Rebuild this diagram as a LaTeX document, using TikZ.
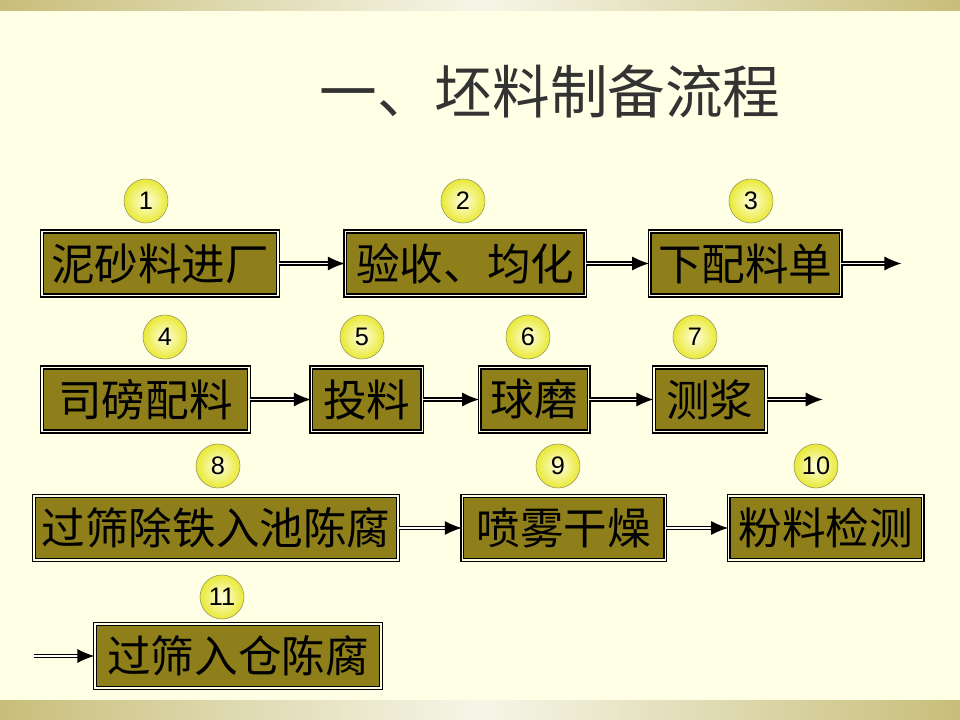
\documentclass[tikz,border=0pt]{standalone}
\usepackage{fontspec}
\setmainfont{Liberation Sans}
\newfontfamily\cjk{Noto Sans CJK SC}
\usepackage{tikz}
\usetikzlibrary{arrows.meta, positioning, shadings}

\definecolor{pagebg}{RGB}{255,255,229}
\definecolor{bandside}{RGB}{200,190,122}
\definecolor{bandmid}{RGB}{246,246,232}
\definecolor{stepfill}{RGB}{143,127,26}
\definecolor{titlegray}{RGB}{51,51,51}

\tikzset{
  stepbox/.style={rectangle, draw=black, line width=0.9pt, double=pagebg, double distance=1.1pt,
    fill=stepfill, minimum height=1.6cm, inner sep=0pt, font=\cjk\fontsize{31}{31}\selectfont},
  badge/.style={circle, draw=black!45!yellow!60!gray, line width=0.4pt, minimum size=1.1cm, inner sep=0pt,
    inner color=yellow!12, outer color=yellow!75!olive!70, font=\fontsize{18}{18}\selectfont},
  flow/.style={double, line width=0.8pt, double distance=1.4pt, -{Latex[length=12pt,width=10pt]}},
}

\begin{document}
\begin{tikzpicture}[x=0.025cm, y=-0.025cm]
  \useasboundingbox (0,0) rectangle (960,720);
  \fill[pagebg] (0,0) rectangle (960,720);
  \shade[left color=bandside, right color=bandside, middle color=bandmid] (0,0) rectangle (960,11);
  \shade[left color=bandside, right color=bandside, middle color=bandmid] (0,700) rectangle (960,720);

  \node[text=titlegray, font=\cjk\fontsize{41}{41}\selectfont] (title) at (550,92) {一、坯料制备流程};

  \node[stepbox, minimum width=5.9cm] (s1) at (160,263.5) {泥砂料进厂};
  \node[stepbox, minimum width=6.0cm, right=1.65cm of s1] (s2) {验收、均化};
  \node[stepbox, minimum width=4.775cm, right=1.575cm of s2] (s3) {下配料单};
  \coordinate[right=1.5cm of s3] (o3);

  \node[stepbox, minimum width=5.175cm] (s4) at (145.5,399.5) {司磅配料};
  \node[stepbox, minimum width=2.775cm, right=1.525cm of s4] (s5) {投料};
  \node[stepbox, minimum width=2.725cm, right=1.4cm of s5] (s6) {球磨};
  \node[stepbox, minimum width=2.8cm, right=1.6cm of s6] (s7) {测浆};
  \coordinate[right=1.4cm of s7] (o7);

  \node[stepbox, minimum width=9.1cm] (s8) at (216,528) {过筛除铁入池陈腐};
  \node[stepbox, minimum width=5.075cm, right=1.575cm of s8] (s9) {喷雾干燥};
  \node[stepbox, minimum width=4.85cm, right=1.55cm of s9] (s10) {粉料检测};

  \node[stepbox, minimum width=7.15cm] (s11) at (238,656) {过筛入仓陈腐};
  \coordinate[left=1.5cm of s11] (i11);

  \node[badge] (n1) at (146,201) {1};
  \node[badge] (n2) at (463,201) {2};
  \node[badge] (n3) at (751,201) {3};
  \node[badge] (n4) at (165,337) {4};
  \node[badge] (n5) at (362,337) {5};
  \node[badge] (n6) at (528,337) {6};
  \node[badge] (n7) at (695,337) {7};
  \node[badge] (n8) at (218,466) {8};
  \node[badge] (n9) at (558,466) {9};
  \node[badge] (n10) at (816,466) {10};
  \node[badge] (n11) at (222,597) {11};

  \draw[flow] (s1) -- (s2);
  \draw[flow] (s2) -- (s3);
  \draw[flow] (s3) -- (o3);
  \draw[flow] (s4) -- (s5);
  \draw[flow] (s5) -- (s6);
  \draw[flow] (s6) -- (s7);
  \draw[flow] (s7) -- (o7);
  \draw[flow] (s8) -- (s9);
  \draw[flow] (s9) -- (s10);
  \draw[flow] (i11) -- (s11);
\end{tikzpicture}
\end{document}
